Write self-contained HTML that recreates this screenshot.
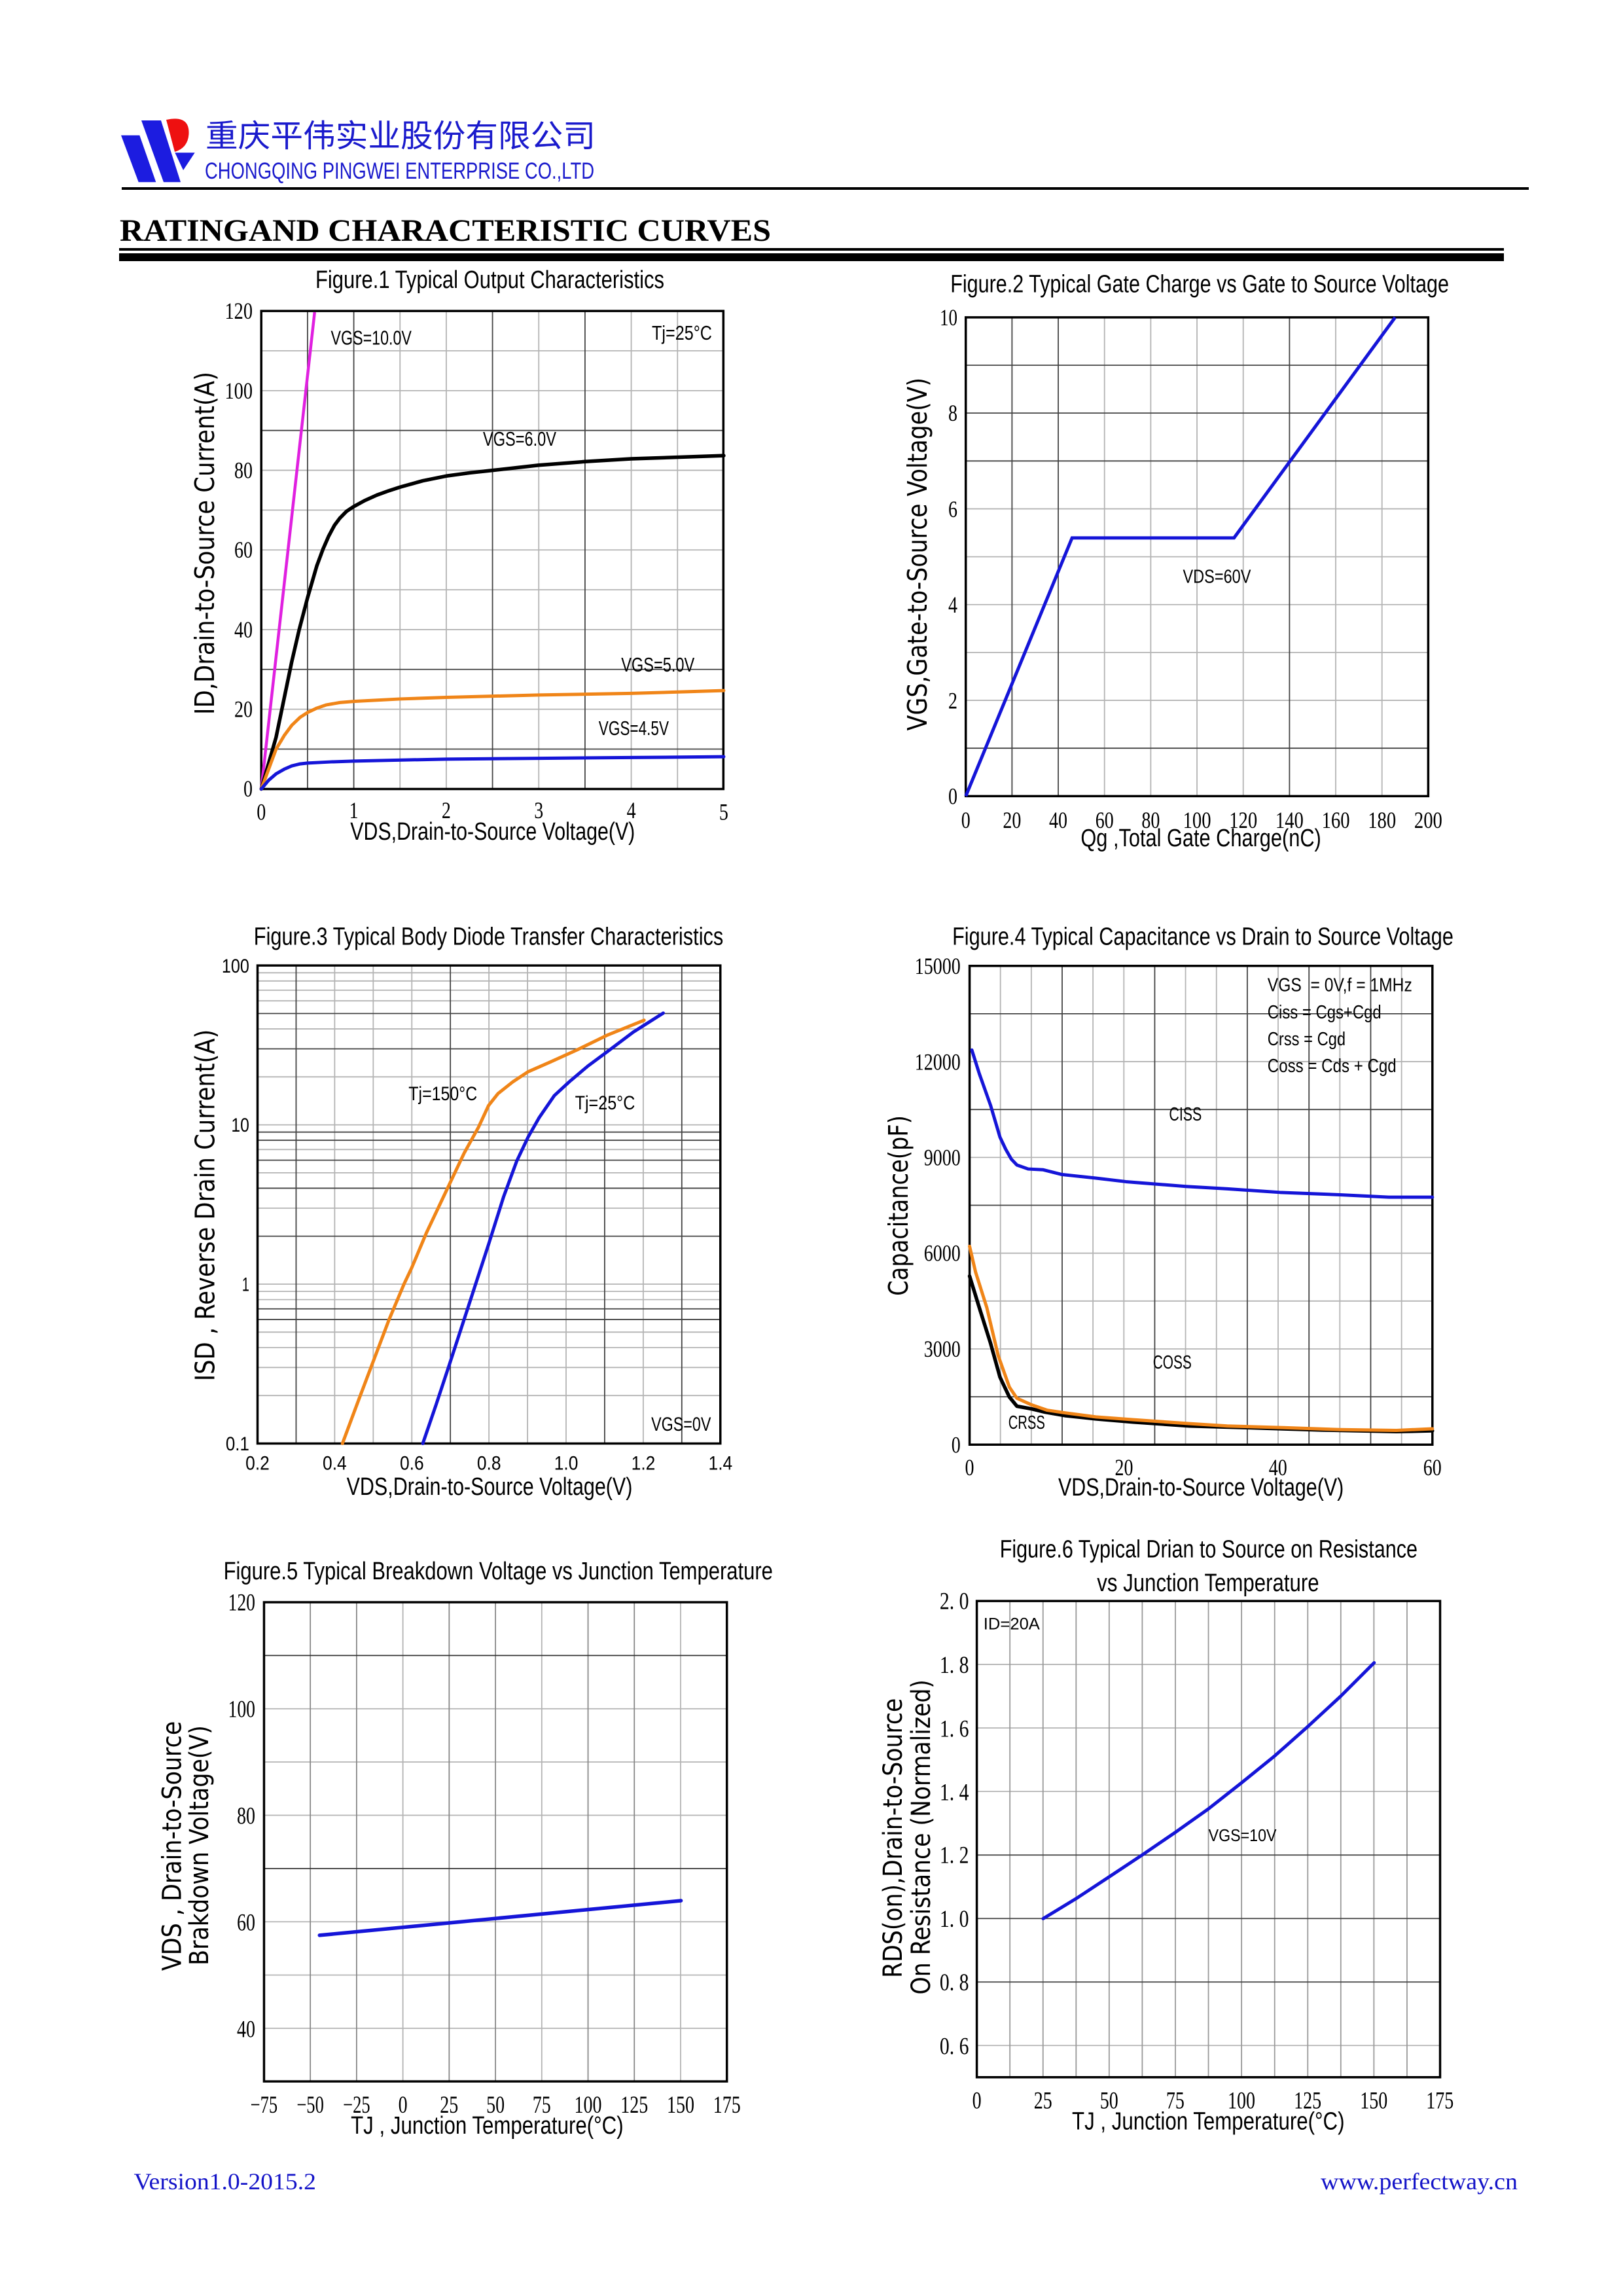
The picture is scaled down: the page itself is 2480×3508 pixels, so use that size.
<!DOCTYPE html>
<html><head><meta charset="utf-8">
<style>
html,body{margin:0;padding:0;background:#fff;}
svg{display:block;}
.v path,.v polyline,.v rect,.v line{vector-effect:non-scaling-stroke;}
.ts{font-family:"Liberation Sans",sans-serif;fill:#000;}
.sf{font-family:"Liberation Serif",serif;fill:#000;}
.dj{font-family:"DejaVu Sans","Liberation Sans",sans-serif;fill:#000;}
</style></head>
<body>
<svg width="2480" height="3508" viewBox="0 0 2480 3508" xmlns="http://www.w3.org/2000/svg">
<rect width="2480" height="3508" fill="#fff"/>

<!-- HEADER -->
<polygon points="185,206.7 213.3,206.7 238.3,278.3 211.7,278.3" fill="#1c1ce0"/>
<polygon points="216,184 246,184 276,278.3 250,278.3" fill="#1c1ce0"/>
<polygon points="267.3,233.3 297.7,233.3 280,260" fill="#1c1ce0"/>
<path d="M254 183 Q290 175 288.5 205 Q287 226 267 232 Z" fill="#ee1010"/>
<text x="314" y="224" font-size="48" fill="#1a1acc" textLength="596" lengthAdjust="spacingAndGlyphs" style="font-family:'Liberation Sans','Noto Sans CJK SC',sans-serif;">重庆平伟实业股份有限公司</text>
<text x="313" y="273" font-size="35" fill="#1a1acc" textLength="595" lengthAdjust="spacingAndGlyphs" style="font-family:'Liberation Sans',sans-serif;">CHONGQING PINGWEI ENTERPRISE CO.,LTD</text>
<rect x="186" y="286" width="2150" height="4" fill="#000"/>
<text x="183" y="368" font-size="48" font-weight="bold" textLength="995" lengthAdjust="spacingAndGlyphs" class="sf">RATINGAND CHARACTERISTIC CURVES</text>
<rect x="182" y="379" width="2116" height="4" fill="#000"/>
<rect x="182" y="387" width="2116" height="12" fill="#000"/>

<!-- FIGURE 1 -->
<g class="v" transform="translate(250,380) scale(0.57405,0.60606)" fill="none">
<path stroke="#b4b4b4" stroke-width="1.8" d="M260 257.4H1490M260 357.8H1490M260 558.6H1490M260 659H1490M260 759.4H1490M260 859.8H1490M260 960.2H1490M260 1161H1490M629.3 157V1362M752.4 157V1362M998.6 157V1362M1244.8 157V1362M1367.9 157V1362"/>
<path stroke="#444" stroke-width="1.8" d="M260 458.2H1490M260 1060.6H1490M260 1261.4H1490M383.1 157V1362M506.2 157V1362M875.5 157V1362M1121.7 157V1362"/>
<rect x="260" y="157" width="1230" height="1205" stroke="#000" stroke-width="3.5"/>
<polyline stroke="#e020e0" stroke-width="4.5" points="260,1362 402,160"/>
<polyline stroke="#000" stroke-width="5.5" stroke-linejoin="round" stroke-linecap="round" points="260,1362 299.4,1231.5 341.2,1040.7 360.9,960.4 383.1,880.1 407.7,799.8 424,758 439.7,724 455,697 469.3,679 487,662 506.2,650 535,635 567.8,621 600,610 629.3,601 690,585 752.4,573 815,565 875.5,558.8 998.6,545.7 1121.7,536.7 1244.8,529.7 1491,521.7"/>
<polyline stroke="#f08518" stroke-width="5" stroke-linejoin="round" stroke-linecap="round" points="260,1362 279.7,1311.8 299.4,1261.6 321.6,1226.5 341.2,1201.4 363.4,1181.3 383.1,1169.2 407.7,1158.2 432.3,1150.2 469.3,1144.1 506.2,1141.1 629.3,1135.1 752.4,1131.1 998.6,1125.1 1244.8,1121 1491,1114"/>
<polyline stroke="#1515d8" stroke-width="5" stroke-linejoin="round" stroke-linecap="round" points="260,1362 279.7,1339.9 299.4,1323.8 321.6,1311.8 341.2,1303.8 363.4,1298.7 383.1,1296.7 444.7,1293.7 506.2,1291.7 752.4,1286.7 998.6,1284.7 1244.8,1282.7 1491,1280.7"/>
</g>
<text x="482" y="440" font-size="38" textLength="533" lengthAdjust="spacingAndGlyphs" class="ts">Figure.1 Typical Output Characteristics</text>
<g class="sf" font-size="36" text-anchor="end">
<text x="386" y="487" textLength="42.5" lengthAdjust="spacingAndGlyphs">120</text>
<text x="386" y="609" textLength="42.5" lengthAdjust="spacingAndGlyphs">100</text>
<text x="386" y="730.5" textLength="28" lengthAdjust="spacingAndGlyphs">80</text>
<text x="386" y="852" textLength="28" lengthAdjust="spacingAndGlyphs">60</text>
<text x="386" y="974" textLength="28" lengthAdjust="spacingAndGlyphs">40</text>
<text x="386" y="1095.5" textLength="28" lengthAdjust="spacingAndGlyphs">20</text>
<text x="386" y="1217" textLength="14" lengthAdjust="spacingAndGlyphs">0</text>
</g>
<g class="sf" font-size="36" text-anchor="middle">
<text x="399.3" y="1252.7" textLength="14" lengthAdjust="spacingAndGlyphs">0</text>
<text x="540.6" y="1250" textLength="14" lengthAdjust="spacingAndGlyphs">1</text>
<text x="681.9" y="1250" textLength="14" lengthAdjust="spacingAndGlyphs">2</text>
<text x="823.3" y="1250" textLength="14" lengthAdjust="spacingAndGlyphs">3</text>
<text x="964.6" y="1250" textLength="14" lengthAdjust="spacingAndGlyphs">4</text>
<text x="1105.9" y="1252.7" textLength="14" lengthAdjust="spacingAndGlyphs">5</text>
</g>
<text x="535.3" y="1283" font-size="38" textLength="435" lengthAdjust="spacingAndGlyphs" class="ts">VDS,Drain-to-Source Voltage(V)</text>
<text transform="translate(327,830) rotate(-90)" text-anchor="middle" font-size="41" textLength="524" lengthAdjust="spacingAndGlyphs" class="dj">ID,Drain-to-Source Current(A)</text>
<g class="ts" font-size="31">
<text x="505.5" y="526.7" textLength="123.4" lengthAdjust="spacingAndGlyphs">VGS=10.0V</text>
<text x="996" y="519" textLength="92" lengthAdjust="spacingAndGlyphs">Tj=25°C</text>
<text x="738" y="681.2" textLength="112" lengthAdjust="spacingAndGlyphs">VGS=6.0V</text>
<text x="949.2" y="1026" textLength="112" lengthAdjust="spacingAndGlyphs">VGS=5.0V</text>
<text x="914.8" y="1123" textLength="107.2" lengthAdjust="spacingAndGlyphs">VGS=4.5V</text>
</g>

<!-- FIGURE 2 -->
<g class="v" transform="translate(1350,380) scale(0.57405,0.60606)" fill="none">
<path stroke="#b4b4b4" stroke-width="1.8" d="M219 655.8H1450M219 776.5H1450M219 897.2H1450M219 1017.9H1450M219 1138.6H1450M588.3 173V1380M711.4 173V1380M834.5 173V1380M957.6 173V1380M1203.8 173V1380M1326.9 173V1380"/>
<path stroke="#444" stroke-width="1.8" d="M219 293.7H1450M219 414.4H1450M219 535.1H1450M219 1259.3H1450M342.1 173V1380M465.2 173V1380M1080.7 173V1380"/>
<rect x="219" y="173" width="1231" height="1207" stroke="#000" stroke-width="3.5"/>
<polyline stroke="#1515d8" stroke-width="5" stroke-linejoin="miter" points="219,1380 502,729 933,729 1362,173"/>
</g>
<text x="1452.2" y="446.7" font-size="38" textLength="761.8" lengthAdjust="spacingAndGlyphs" class="ts">Figure.2 Typical Gate Charge vs Gate to Source Voltage</text>
<g class="sf" font-size="36" text-anchor="end">
<text x="1463" y="1228.4" textLength="14" lengthAdjust="spacingAndGlyphs">0</text>
<text x="1463" y="1082.3" textLength="14" lengthAdjust="spacingAndGlyphs">2</text>
<text x="1463" y="936.2" textLength="14" lengthAdjust="spacingAndGlyphs">4</text>
<text x="1463" y="790.2" textLength="14" lengthAdjust="spacingAndGlyphs">6</text>
<text x="1463" y="642.9" textLength="14" lengthAdjust="spacingAndGlyphs">8</text>
<text x="1463" y="496.8" textLength="27" lengthAdjust="spacingAndGlyphs">10</text>
</g>
<g class="sf" font-size="36" text-anchor="middle">
<text x="1475.7" y="1264.8" textLength="14" lengthAdjust="spacingAndGlyphs">0</text>
<text x="1546.4" y="1264.8" textLength="28" lengthAdjust="spacingAndGlyphs">20</text>
<text x="1617" y="1264.8" textLength="28" lengthAdjust="spacingAndGlyphs">40</text>
<text x="1687.7" y="1264.8" textLength="28" lengthAdjust="spacingAndGlyphs">60</text>
<text x="1758.4" y="1264.8" textLength="28" lengthAdjust="spacingAndGlyphs">80</text>
<text x="1829.1" y="1264.8" textLength="43" lengthAdjust="spacingAndGlyphs">100</text>
<text x="1899.7" y="1264.8" textLength="43" lengthAdjust="spacingAndGlyphs">120</text>
<text x="1970.4" y="1264.8" textLength="43" lengthAdjust="spacingAndGlyphs">140</text>
<text x="2041.1" y="1264.8" textLength="43" lengthAdjust="spacingAndGlyphs">160</text>
<text x="2111.7" y="1264.8" textLength="43" lengthAdjust="spacingAndGlyphs">180</text>
<text x="2182.4" y="1264.8" textLength="43" lengthAdjust="spacingAndGlyphs">200</text>
</g>
<text x="1651.4" y="1293" font-size="38" textLength="367.4" lengthAdjust="spacingAndGlyphs" class="ts">Qg ,Total Gate Charge(nC)</text>
<text transform="translate(1416,846.7) rotate(-90)" text-anchor="middle" font-size="41" textLength="539.4" lengthAdjust="spacingAndGlyphs" class="dj">VGS,Gate-to-Source Voltage(V)</text>
<text x="1807.5" y="890.3" font-size="29" textLength="103.9" lengthAdjust="spacingAndGlyphs" class="ts">VDS=60V</text>

<!-- FIGURE 3 -->
<g class="v" transform="translate(250,1380) scale(0.57405,0.60606)" fill="none">
<path stroke="#b4b4b4" stroke-width="1.8" d="M250 1241.1H1482M250 1170.4H1482M250 1120.2H1482M250 1081.3H1482M250 999.3H1482M250 978.7H1482M250 960.3H1482M250 768.7H1482M250 679.6H1482M250 620.9H1482M250 558.7H1482M250 437.8H1482M250 316.9H1482M250 246.2H1482M250 219.3H1482M250 196H1482M250 175.4H1482M455.3 157V1362M558 157V1362M660.7 157V1362M866 157V1362M968.7 157V1362M1071.3 157V1362M1276.7 157V1362"/>
<path stroke="#444" stroke-width="1.8" d="M250 1049.5H1482M250 1022.6H1482M250 839.4H1482M250 718.5H1482M250 647.8H1482M250 597.6H1482M250 577H1482M250 367.1H1482M250 278H1482M352.7 157V1362M763.3 157V1362M1174 157V1362M1379.3 157V1362"/>
<rect x="250" y="157" width="1232" height="1205" stroke="#000" stroke-width="3.5"/>
<polyline stroke="#f08518" stroke-width="5" stroke-linejoin="round" stroke-linecap="round" points="476,1362 520,1250 560,1150 600,1050 640,960 660,920 700,830 760,710 800,630 838,565 865,510 890,480 930,450 970,425 1030,400 1100,370 1180,333 1279,295"/>
<polyline stroke="#1515d8" stroke-width="5" stroke-linejoin="round" stroke-linecap="round" points="690,1362 725,1265 760,1165 810,1020 865,860 905,740 940,650 970,590 1000,540 1040,485 1080,450 1130,410 1180,375 1250,325 1330,277"/>
</g>
<text x="387.8" y="1443.6" font-size="38" textLength="717.5" lengthAdjust="spacingAndGlyphs" class="ts">Figure.3 Typical Body Diode Transfer Characteristics</text>
<g class="ts" font-size="30" text-anchor="end">
<text x="380.9" y="1486" textLength="42" lengthAdjust="spacingAndGlyphs">100</text>
<text x="380.9" y="1729" textLength="27.5" lengthAdjust="spacingAndGlyphs">10</text>
<text x="380.9" y="1972.5" textLength="11" lengthAdjust="spacingAndGlyphs">1</text>
<text x="380.9" y="2216" textLength="36" lengthAdjust="spacingAndGlyphs">0.1</text>
</g>
<g class="ts" font-size="30" text-anchor="middle">
<text x="393.5" y="2245.5" textLength="36.7" lengthAdjust="spacingAndGlyphs">0.2</text>
<text x="511.4" y="2245.5" textLength="36.7" lengthAdjust="spacingAndGlyphs">0.4</text>
<text x="629.3" y="2245.5" textLength="36.7" lengthAdjust="spacingAndGlyphs">0.6</text>
<text x="747.2" y="2245.5" textLength="36.7" lengthAdjust="spacingAndGlyphs">0.8</text>
<text x="865.1" y="2245.5" textLength="36.7" lengthAdjust="spacingAndGlyphs">1.0</text>
<text x="983" y="2245.5" textLength="36.7" lengthAdjust="spacingAndGlyphs">1.2</text>
<text x="1100.9" y="2245.5" textLength="36.7" lengthAdjust="spacingAndGlyphs">1.4</text>
</g>
<text x="529.6" y="2284" font-size="38" textLength="436.8" lengthAdjust="spacingAndGlyphs" class="ts">VDS,Drain-to-Source Voltage(V)</text>
<text transform="translate(327.5,1841.5) rotate(-90)" text-anchor="middle" font-size="41" textLength="537.6" lengthAdjust="spacingAndGlyphs" class="dj">ISD , Reverse Drain Current(A)</text>
<g class="ts" font-size="30">
<text x="624.3" y="1681.2" textLength="105" lengthAdjust="spacingAndGlyphs">Tj=150°C</text>
<text x="878.6" y="1695.2" textLength="91.8" lengthAdjust="spacingAndGlyphs">Tj=25°C</text>
<text x="995.1" y="2186" textLength="91.3" lengthAdjust="spacingAndGlyphs">VGS=0V</text>
</g>

<!-- FIGURE 4 -->
<g class="v" transform="translate(1330,1380) scale(0.57405,0.60606)" fill="none">
<path stroke="#b4b4b4" stroke-width="1.8" d="M264 399.4H1496M264 640.8H1496M264 882.2H1496M264 1002.9H1496M264 1123.6H1496M346.1 158V1365M428.3 158V1365M592.5 158V1365M674.7 158V1365M838.9 158V1365M921.1 158V1365M1085.3 158V1365M1249.6 158V1365M1413.9 158V1365"/>
<path stroke="#444" stroke-width="1.8" d="M264 278.7H1496M264 520.1H1496M264 761.5H1496M264 1244.3H1496M510.4 158V1365M756.8 158V1365M1003.2 158V1365M1167.5 158V1365M1331.7 158V1365"/>
<rect x="264" y="158" width="1232" height="1207" stroke="#000" stroke-width="3.5"/>
<polyline stroke="#1515d8" stroke-width="5" stroke-linejoin="round" stroke-linecap="round" points="270,370 290,430 320,510 345,590 360,620 375,645 390,660 420,670 460,672 510,684 600,693 680,702 760,708 840,714 950,720 1090,729 1250,735 1380,741 1496,741"/>
<polyline stroke="#000" stroke-width="5.5" stroke-linejoin="round" stroke-linecap="round" points="264,940 290,1020 320,1110 345,1195 370,1245 390,1268 430,1275 465,1283 520,1292 600,1300 700,1308 850,1318 1000,1322 1200,1328 1400,1332 1496,1330"/>
<polyline stroke="#f08518" stroke-width="5" stroke-linejoin="round" stroke-linecap="round" points="264,865 280,930 310,1020 340,1140 370,1220 390,1248 430,1265 470,1278 520,1285 600,1295 700,1302 850,1312 950,1318 1100,1322 1250,1327 1400,1329 1496,1325"/>
</g>
<text x="1455.1" y="1443.6" font-size="38" textLength="765.8" lengthAdjust="spacingAndGlyphs" class="ts">Figure.4 Typical Capacitance vs Drain to Source Voltage</text>
<g class="sf" font-size="36" text-anchor="end">
<text x="1467.8" y="2219.3" textLength="14" lengthAdjust="spacingAndGlyphs">0</text>
<text x="1467.8" y="2073.2" textLength="56" lengthAdjust="spacingAndGlyphs">3000</text>
<text x="1467.8" y="1926.5" textLength="56" lengthAdjust="spacingAndGlyphs">6000</text>
<text x="1467.8" y="1780.5" textLength="56" lengthAdjust="spacingAndGlyphs">9000</text>
<text x="1467.8" y="1634.4" textLength="70" lengthAdjust="spacingAndGlyphs">12000</text>
<text x="1467.8" y="1487.8" textLength="70" lengthAdjust="spacingAndGlyphs">15000</text>
</g>
<g class="sf" font-size="36" text-anchor="middle">
<text x="1481.5" y="2254" textLength="14" lengthAdjust="spacingAndGlyphs">0</text>
<text x="1717.5" y="2254" textLength="28" lengthAdjust="spacingAndGlyphs">20</text>
<text x="1952.8" y="2254" textLength="28" lengthAdjust="spacingAndGlyphs">40</text>
<text x="2188.8" y="2254" textLength="28" lengthAdjust="spacingAndGlyphs">60</text>
</g>
<text x="1617" y="2284.8" font-size="38" textLength="436.3" lengthAdjust="spacingAndGlyphs" class="ts">VDS,Drain-to-Source Voltage(V)</text>
<text transform="translate(1387,1842) rotate(-90)" text-anchor="middle" font-size="41" textLength="275.8" lengthAdjust="spacingAndGlyphs" class="dj">Capacitance(pF)</text>
<g class="ts" font-size="29">
<text x="1936.8" y="1514.5" textLength="221" lengthAdjust="spacingAndGlyphs" xml:space="preserve">VGS  = 0V,f = 1MHz</text>
<text x="1936.8" y="1555.8" textLength="173.9" lengthAdjust="spacingAndGlyphs">Ciss = Cgs+Cgd</text>
<text x="1936.8" y="1597" textLength="119.3" lengthAdjust="spacingAndGlyphs">Crss = Cgd</text>
<text x="1936.8" y="1638.2" textLength="196.9" lengthAdjust="spacingAndGlyphs">Coss = Cds + Cgd</text>
<text x="1786.4" y="1712" textLength="49.9" lengthAdjust="spacingAndGlyphs">CISS</text>
<text x="1761.7" y="2090.9" textLength="59.1" lengthAdjust="spacingAndGlyphs">COSS</text>
<text x="1540.7" y="2183" textLength="56.2" lengthAdjust="spacingAndGlyphs">CRSS</text>
</g>

<!-- FIGURE 5 -->
<g class="v" transform="translate(200,2330) scale(0.63776)" fill="none">
<path stroke="#b4b4b4" stroke-width="1.8" d="M319 440.2H1428M319 567.8H1428M319 695.4H1428M319 950.6H1428M319 1078.2H1428M319 1205.8H1428M651.7 185V1333M984.4 185V1333M1317.1 185V1333"/>
<path stroke="#888" stroke-width="1.8" d="M429.9 185V1333M540.8 185V1333M762.6 185V1333M873.5 185V1333M1095.3 185V1333M1206.2 185V1333"/>
<path stroke="#333" stroke-width="1.8" d="M319 312.6H1428M319 823H1428"/>
<rect x="319" y="185" width="1109" height="1148" stroke="#000" stroke-width="3.5"/>
<polyline stroke="#1515d8" stroke-width="5.5" stroke-linecap="round" points="452,983 1318,900"/>
</g>
<text x="341.6" y="2412.9" font-size="38" textLength="839.3" lengthAdjust="spacingAndGlyphs" class="ts">Figure.5 Typical Breakdown Voltage vs Junction Temperature</text>
<g class="sf" font-size="37" text-anchor="end">
<text x="390" y="2460.5" textLength="41.5" lengthAdjust="spacingAndGlyphs">120</text>
<text x="390" y="2623.7" textLength="41.5" lengthAdjust="spacingAndGlyphs">100</text>
<text x="390" y="2786.4" textLength="28" lengthAdjust="spacingAndGlyphs">80</text>
<text x="390" y="2949.6" textLength="28" lengthAdjust="spacingAndGlyphs">60</text>
<text x="390" y="3112.3" textLength="28" lengthAdjust="spacingAndGlyphs">40</text>
</g>
<g class="sf" font-size="37" text-anchor="middle">
<text x="403.4" y="3228" textLength="41.5" lengthAdjust="spacingAndGlyphs">−75</text>
<text x="474.1" y="3228" textLength="41.5" lengthAdjust="spacingAndGlyphs">−50</text>
<text x="544.9" y="3228" textLength="41.5" lengthAdjust="spacingAndGlyphs">−25</text>
<text x="615.6" y="3228" textLength="14" lengthAdjust="spacingAndGlyphs">0</text>
<text x="686.3" y="3228" textLength="28" lengthAdjust="spacingAndGlyphs">25</text>
<text x="757.1" y="3228" textLength="28" lengthAdjust="spacingAndGlyphs">50</text>
<text x="827.8" y="3228" textLength="28" lengthAdjust="spacingAndGlyphs">75</text>
<text x="898.5" y="3228" textLength="42" lengthAdjust="spacingAndGlyphs">100</text>
<text x="969.2" y="3228" textLength="42" lengthAdjust="spacingAndGlyphs">125</text>
<text x="1040" y="3228" textLength="42" lengthAdjust="spacingAndGlyphs">150</text>
<text x="1110.7" y="3228" textLength="42" lengthAdjust="spacingAndGlyphs">175</text>
</g>
<text x="536.1" y="3259.8" font-size="38" textLength="416.5" lengthAdjust="spacingAndGlyphs" class="ts">TJ , Junction Temperature(°C)</text>
<text transform="translate(276.5,2820.4) rotate(-90)" text-anchor="middle" font-size="40" textLength="381.4" lengthAdjust="spacingAndGlyphs" class="dj">VDS , Drain-to-Source</text>
<text transform="translate(318,2819.5) rotate(-90)" text-anchor="middle" font-size="40" textLength="366.7" lengthAdjust="spacingAndGlyphs" class="dj">Brakdown Voltage(V)</text>

<!-- FIGURE 6 -->
<g class="v" transform="translate(1300,2330) scale(0.63776)" fill="none">
<path stroke="#b4b4b4" stroke-width="1.8" d="M302 334.1H1412M302 486.3H1412M302 638.4H1412M302 1247H1412"/>
<path stroke="#999" stroke-width="1.8" d="M381.3 182V1323M460.6 182V1323M539.9 182V1323M619.1 182V1323M698.4 182V1323M777.7 182V1323M857 182V1323M936.3 182V1323M1015.6 182V1323M1094.9 182V1323M1174.1 182V1323M1253.4 182V1323M1332.7 182V1323"/>
<path stroke="#444" stroke-width="1.8" d="M302 790.6H1412M302 942.7H1412M302 1094.9H1412"/>
<rect x="302" y="182" width="1110" height="1141" stroke="#000" stroke-width="3.5"/>
<polyline stroke="#1515d8" stroke-width="5" stroke-linejoin="round" stroke-linecap="round" points="461,943 540,895 619,843 699,790 778,736 857,680 937,617 1016,553 1095,483 1174,410 1254,330"/>
</g>
<text x="1527.7" y="2379.7" font-size="38" textLength="638.3" lengthAdjust="spacingAndGlyphs" class="ts">Figure.6 Typical Drian to Source on Resistance</text>
<text x="1676.3" y="2430.8" font-size="38" textLength="339.3" lengthAdjust="spacingAndGlyphs" class="ts">vs Junction Temperature</text>
<g class="sf" font-size="37" text-anchor="end">
<text x="1480.5" y="2458.6" textLength="44.6" lengthAdjust="spacingAndGlyphs" xml:space="preserve">2. 0</text>
<text x="1480.5" y="2556.1" textLength="44.6" lengthAdjust="spacingAndGlyphs" xml:space="preserve">1. 8</text>
<text x="1480.5" y="2653.7" textLength="44.6" lengthAdjust="spacingAndGlyphs" xml:space="preserve">1. 6</text>
<text x="1480.5" y="2750.7" textLength="44.6" lengthAdjust="spacingAndGlyphs" xml:space="preserve">1. 4</text>
<text x="1480.5" y="2846.3" textLength="44.6" lengthAdjust="spacingAndGlyphs" xml:space="preserve">1. 2</text>
<text x="1480.5" y="2943.9" textLength="44.6" lengthAdjust="spacingAndGlyphs" xml:space="preserve">1. 0</text>
<text x="1480.5" y="3040.8" textLength="44.6" lengthAdjust="spacingAndGlyphs" xml:space="preserve">0. 8</text>
<text x="1480.5" y="3138.4" textLength="44.6" lengthAdjust="spacingAndGlyphs" xml:space="preserve">0. 6</text>
</g>
<g class="sf" font-size="37" text-anchor="middle">
<text x="1492.6" y="3221.6" textLength="14" lengthAdjust="spacingAndGlyphs">0</text>
<text x="1593.7" y="3221.6" textLength="28" lengthAdjust="spacingAndGlyphs">25</text>
<text x="1694.8" y="3221.6" textLength="28" lengthAdjust="spacingAndGlyphs">50</text>
<text x="1795.9" y="3221.6" textLength="28" lengthAdjust="spacingAndGlyphs">75</text>
<text x="1897" y="3221.6" textLength="42" lengthAdjust="spacingAndGlyphs">100</text>
<text x="1998.1" y="3221.6" textLength="42" lengthAdjust="spacingAndGlyphs">125</text>
<text x="2099.2" y="3221.6" textLength="42" lengthAdjust="spacingAndGlyphs">150</text>
<text x="2200.3" y="3221.6" textLength="42" lengthAdjust="spacingAndGlyphs">175</text>
</g>
<text x="1638" y="3253.5" font-size="38" textLength="416.5" lengthAdjust="spacingAndGlyphs" class="ts">TJ , Junction Temperature(°C)</text>
<text transform="translate(1378,2808.3) rotate(-90)" text-anchor="middle" font-size="40" textLength="427.3" lengthAdjust="spacingAndGlyphs" class="dj">RDS(on),Drain-to-Source</text>
<text transform="translate(1421,2806.8) rotate(-90)" text-anchor="middle" font-size="40" textLength="481.5" lengthAdjust="spacingAndGlyphs" class="dj">On Resistance (Normalized)</text>
<text x="1502.8" y="2489.4" font-size="25" textLength="86.1" lengthAdjust="spacingAndGlyphs" class="ts">ID=20A</text>
<text x="1846.6" y="2812.8" font-size="26" textLength="103.9" lengthAdjust="spacingAndGlyphs" class="ts">VGS=10V</text>

<!-- FOOTER -->
<text x="204.5" y="3345" font-size="36" fill="#1414c8" textLength="278.5" lengthAdjust="spacingAndGlyphs" style="font-family:'Liberation Serif',serif;">Version1.0-2015.2</text>
<text x="2018" y="3345" font-size="36" fill="#1414c8" textLength="301" lengthAdjust="spacingAndGlyphs" style="font-family:'Liberation Serif',serif;">www.perfectway.cn</text>
</svg>
</body></html>
